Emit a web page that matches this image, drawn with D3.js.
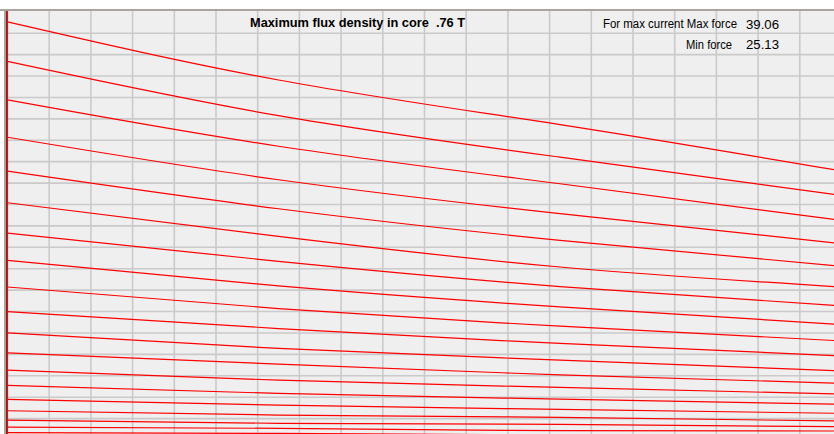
<!DOCTYPE html>
<html>
<head>
  <meta charset="utf-8" />
  <style>
    body { margin: 0; background: #ffffff; }
    svg { display: block; }
    text { font-family: "Liberation Sans", Arial, sans-serif; fill: #000; white-space: pre; }
  </style>
</head>
<body>
  <div id="chart"><svg width="834" height="434"></svg></div>

  <script src="https://d3js.org/d3.v7.min.js"></script>
  <script>
    // sample positions along the travel (grid columns)
    var positions = [0, 6.5, 13.25, 20];

    // force curves, one per current step (top = max current)
    var force1 = [39.06, 33.63, 29.46, 25.13];
    var force2 = [35.37, 30.3, 26.42, 22.84];
    var force3 = [31.77, 27.44, 23.94, 20.51];
    var force4 = [28.28, 24.31, 21.14, 18.34];
    var force5 = [25.11, 21.6, 18.65, 16.22];
    var force6 = [22.16, 19.02, 16.16, 14.29];
    var force7 = [19.33, 16.69, 14.33, 12.52];
    var force8 = [16.78, 14.39, 12.43, 10.79];
    var force9 = [14.29, 12.28, 10.63, 9.26];
    var force10 = [12.0, 10.41, 9.02, 7.86];
    var force11 = [10.0, 8.55, 7.46, 6.46];
    var force12 = [8.14, 7.09, 6.09, 5.29];
    var force13 = [6.53, 5.59, 4.91, 4.29];
    var force14 = [5.1, 4.35, 3.82, 3.33];
    var force15 = [3.79, 3.26, 2.86, 2.49];
    var force16 = [2.73, 2.33, 2.12, 1.77];
    var force17 = [1.86, 1.56, 1.46, 1.24];
    var force18 = [1.21, 1.09, 0.87, 0.84];
    var force19 = [0.68, 0.61, 0.47, 0.37];

    var title = "Maximum flux density in core  .76 T";
    var maxLabel = "For max current Max force";
    var minLabel = "Min force";
    var maxForce = "39.06";
    var minForce = "25.13";

    var curves = [force1, force2, force3, force4, force5, force6, force7,
      force8, force9, force10, force11, force12, force13, force14, force15,
      force16, force17, force18, force19];

    var svg = d3.select("svg");

    var x = d3.scaleLinear().domain([0, 20]).range([7.5, 841.5]);
    var y = d3.scaleLinear().domain([0, 40]).range([440, 11.8]);

    // plot background
    svg.append("rect")
      .attr("x", 7).attr("y", 11)
      .attr("width", 834).attr("height", 430)
      .attr("fill", "#efefef");

    svg.append("defs").append("clipPath").attr("id", "plotClip")
      .append("rect")
      .attr("x", 7.5).attr("y", 11)
      .attr("width", 834).attr("height", 430);

    // grid
    var grid = svg.append("g").attr("class", "grid");
    grid.selectAll("line.v")
      .data(d3.range(1, 20))
      .enter().append("line")
      .attr("class", "v")
      .attr("x1", function (d) { return x(d); })
      .attr("x2", function (d) { return x(d); })
      .attr("y1", 11).attr("y2", 434)
      .attr("stroke", "#cacaca")
      .attr("stroke-width", 1.6);
    grid.selectAll("line.h")
      .data(d3.range(2, 40, 2))
      .enter().append("line")
      .attr("class", "h")
      .attr("x1", 7.5).attr("x2", 834)
      .attr("y1", function (d) { return y(d); })
      .attr("y2", function (d) { return y(d); })
      .attr("stroke", "#cacaca")
      .attr("stroke-width", 1.6);

    // frame
    svg.append("rect").attr("x", 0).attr("y", 9).attr("width", 834).attr("height", 2).attr("fill", "#a9a59e");
    svg.append("rect").attr("x", 4).attr("y", 9).attr("width", 3).attr("height", 425).attr("fill", "#a9a59e");
    svg.append("line").attr("x1", 6.5).attr("x2", 6.5).attr("y1", 11).attr("y2", 434)
      .attr("stroke", "#404040").attr("stroke-width", 1);
    svg.append("line").attr("x1", x(0)).attr("x2", x(0)).attr("y1", 11).attr("y2", 434)
      .attr("stroke", "#ff0000").attr("stroke-width", 1.2);

    var line = d3.line()
      .x(function (d, i) { return x(positions[i]); })
      .y(function (d) { return y(d); })
      .curve(d3.curveNatural);

    svg.append("g")
      .attr("clip-path", "url(#plotClip)")
      .selectAll("path")
      .data(curves)
      .enter().append("path")
      .attr("d", line)
      .attr("fill", "none")
      .attr("stroke", "#ff0000")
      .attr("stroke-width", 1.2);

    // labels
    svg.append("text")
      .attr("x", 250).attr("y", 26.5)
      .attr("font-size", 12).attr("font-weight", "bold")
      .attr("textLength", 215).attr("lengthAdjust", "spacingAndGlyphs")
      .text(title);

    svg.append("text")
      .attr("x", 603).attr("y", 28)
      .attr("font-size", 12)
      .attr("textLength", 134).attr("lengthAdjust", "spacingAndGlyphs")
      .text(maxLabel);
    svg.append("text")
      .attr("x", 746).attr("y", 28.5)
      .attr("font-size", 12)
      .attr("textLength", 33).attr("lengthAdjust", "spacingAndGlyphs")
      .text(maxForce);
    svg.append("text")
      .attr("x", 686).attr("y", 49)
      .attr("font-size", 12)
      .attr("textLength", 46).attr("lengthAdjust", "spacingAndGlyphs")
      .text(minLabel);
    svg.append("text")
      .attr("x", 746).attr("y", 49)
      .attr("font-size", 12)
      .attr("textLength", 33).attr("lengthAdjust", "spacingAndGlyphs")
      .text(minForce);
  </script>
</body>
</html>
